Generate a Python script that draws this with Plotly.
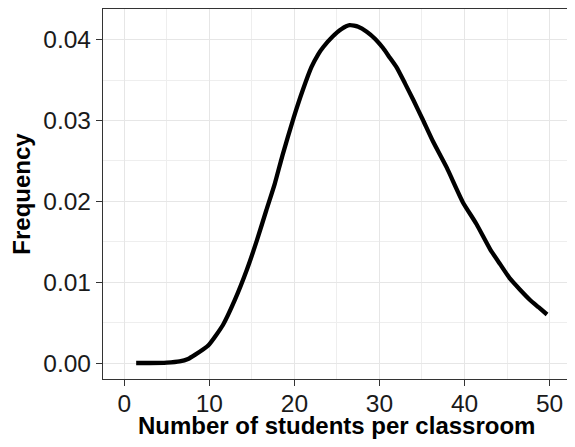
import plotly.graph_objects as go

# density curve
students = [1.4, 3, 5, 6.5, 7.5, 8.3, 9.9, 11.6, 13.0, 14.4, 15.6, 16.7, 17.7,
            18.6, 19.9, 21.0, 22.0, 22.8, 23.4, 24.5, 25.5, 26.5, 27.5, 28.5,
            29.5, 30.4, 31.2, 32.0, 33.0, 34.0, 35.1, 36.3, 37.9, 39.8, 41.4,
            43.0, 44.2, 45.3, 46.5, 47.7, 48.7, 49.7]
frequency = [0.0, 0.0, 0.00005, 0.0002, 0.0005, 0.001, 0.0022, 0.0047, 0.0078,
             0.0115, 0.0152, 0.0189, 0.0222, 0.0257, 0.0303, 0.0338, 0.0366,
             0.0382, 0.0391, 0.0404, 0.0413, 0.0418, 0.0416, 0.041, 0.0401,
             0.039, 0.0378, 0.0366, 0.0346, 0.0325, 0.0301, 0.0274, 0.0242,
             0.0199, 0.0172, 0.0141, 0.0122, 0.0105, 0.0091, 0.0078, 0.0069,
             0.006]

x_ticks = [0, 10, 20, 30, 40, 50]
y_ticks = [0.0, 0.01, 0.02, 0.03, 0.04]
y_labels = ["0.00", "0.01", "0.02", "0.03", "0.04"]

fig = go.Figure()
fig.add_trace(go.Scatter(x=students, y=frequency, mode="lines",
                         line=dict(color="black", width=4.3, shape="spline", smoothing=0.5)))

axis_common = dict(
    showline=True, linecolor="#333333", linewidth=1.2, mirror=True,
    ticks="outside", ticklen=6, tickwidth=1.1, tickcolor="#333333",
    showgrid=True, gridcolor="#e6e6e6", gridwidth=1.2,
    zeroline=False, automargin=False,
    tickfont=dict(family="Liberation Sans, Arial", size=24.5, color="#1a1a1a"),
)
title_font = dict(family="Liberation Sans, Arial", size=24, color="black")
minor_grid = dict(showgrid=True, gridcolor="#eeeeee", gridwidth=0.8, ticks="")

fig.update_xaxes(
    range=[-2.5, 52.4], tickvals=x_ticks, ticklabelstandoff=-4,
    minor=dict(dtick=5, tick0=5, **minor_grid),
    **axis_common,
)
fig.update_yaxes(
    range=[-0.00198, 0.0438], tickvals=y_ticks, ticktext=y_labels,
    minor=dict(dtick=0.005, tick0=0.005, **minor_grid),
    title=dict(text="<b>Frequency</b>", standoff=7, font=title_font),
    **axis_common,
)

# x title as an annotation so it can sit closer to the tick labels
fig.add_annotation(text="<b>Number of students per classroom</b>", font=title_font,
                   xref="paper", yref="paper", x=0.5, y=0, xanchor="center", yanchor="top",
                   yshift=-31, showarrow=False)

# the page body adds an 8px margin, so the figure is 8px smaller and shifted
fig.update_layout(
    width=567, height=439,
    margin=dict(l=95, r=5, t=1, b=68),
    paper_bgcolor="white", plot_bgcolor="white",
    showlegend=False,
)

fig.write_html("out.html")
